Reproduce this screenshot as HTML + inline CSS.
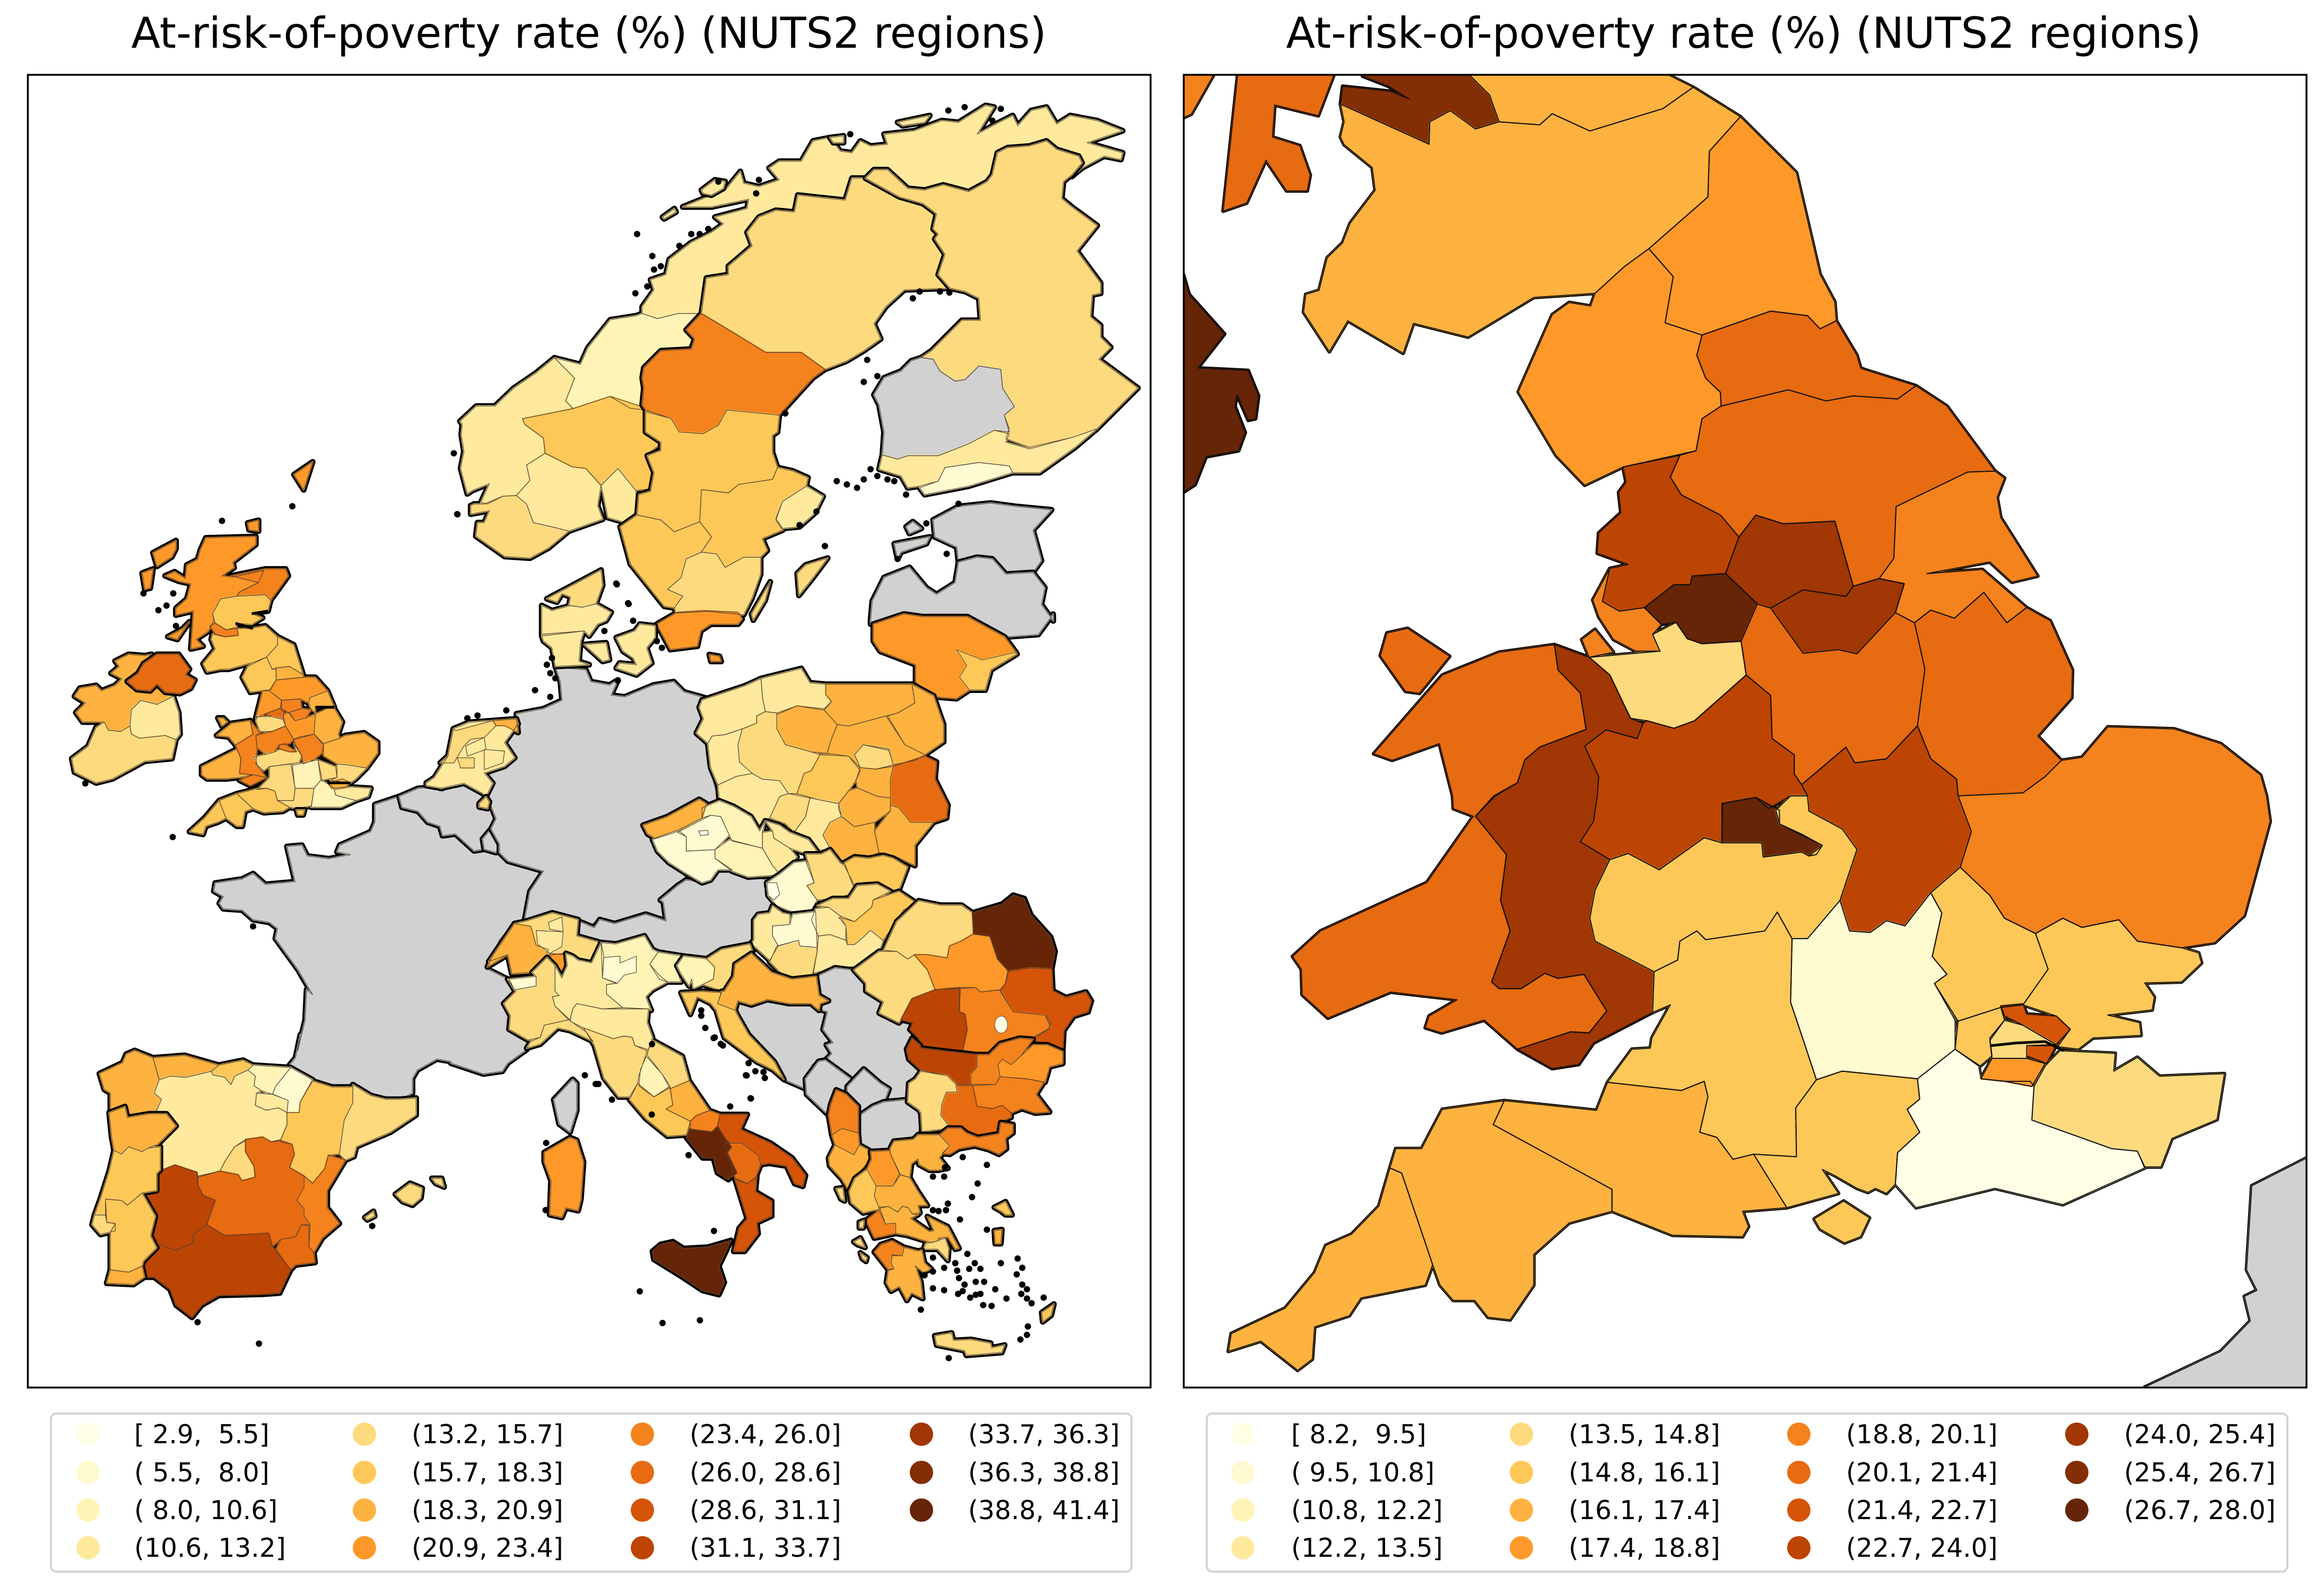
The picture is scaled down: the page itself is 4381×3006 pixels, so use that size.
<!DOCTYPE html>
<html lang="en">
<head>
<meta charset="utf-8">
<title>At-risk-of-poverty rate maps</title>
<style>
html,body{margin:0;padding:0;background:#fff;}
svg{display:block;}
text{font-family:"DejaVu Sans","Liberation Sans",sans-serif;fill:#000;white-space:pre;}
</style>
</head>
<body>
<svg id="fig" xmlns="http://www.w3.org/2000/svg" width="4381" height="3006" viewBox="0 0 4381 3006">
<defs><clipPath id="rc"><rect x="2231" y="140" width="2118" height="2475"/></clipPath></defs>
<rect width="4381" height="3006" fill="#fff"/>
<text x="1110" y="90" font-size="80" text-anchor="middle">At-risk-of-poverty rate (%) (NUTS2 regions)</text>
<text x="3287" y="90" font-size="80" text-anchor="middle">At-risk-of-poverty rate (%) (NUTS2 regions)</text>
<g id="leftMap"></g>
<g id="rightMap" clip-path="url(#rc)"></g>
<rect x="52.5" y="141" width="2116.5" height="2474" fill="none" stroke="#000" stroke-width="3.5"/>
<rect x="2231.5" y="141" width="2116.5" height="2474" fill="none" stroke="#000" stroke-width="3.5"/>
<rect x="96" y="2664" width="2037" height="298" rx="10" fill="#fff" stroke="#d4d4d4" stroke-width="4"/>
<rect x="2275" y="2664" width="2037" height="298" rx="10" fill="#fff" stroke="#d4d4d4" stroke-width="4"/>
<g id="leftLegend"></g>
<g id="rightLegend"></g>
</svg>
<script>
const colorRamp = ["#ffffe5","#fffad0","#fff4b6","#fee99d","#feda7e","#fec858","#feb23f","#fe9929","#f4821d","#e76b11","#d55407","#bd4503","#a03704","#832e05","#662506"];
const noDataColor = "#d1d1d1";
const leftBinEdges = [2.9,5.5,8.0,10.6,13.2,15.7,18.3,20.9,23.4,26.0,28.6,31.1,33.7,36.3,38.8,41.4];
const rightBinEdges = [8.2,9.5,10.8,12.2,13.5,14.8,16.1,17.4,18.8,20.1,21.4,22.7,24.0,25.4,26.7,28.0];
const leftLabels = ["[ 2.9,  5.5]","( 5.5,  8.0]","( 8.0, 10.6]","(10.6, 13.2]","(13.2, 15.7]","(15.7, 18.3]","(18.3, 20.9]","(20.9, 23.4]","(23.4, 26.0]","(26.0, 28.6]","(28.6, 31.1]","(31.1, 33.7]","(33.7, 36.3]","(36.3, 38.8]","(38.8, 41.4]"];
const rightLabels = ["[ 8.2,  9.5]","( 9.5, 10.8]","(10.8, 12.2]","(12.2, 13.5]","(13.5, 14.8]","(14.8, 16.1]","(16.1, 17.4]","(17.4, 18.8]","(18.8, 20.1]","(20.1, 21.4]","(21.4, 22.7]","(22.7, 24.0]","(24.0, 25.4]","(25.4, 26.7]","(26.7, 28.0]"];

const rightRates = {
 "ie-sliver":19.5,"kintyre":20.8,"glasgow":26.1,"edinburgh":16.8,"s-scotland":16.8,"northumberland":18.1,"cumbria":18.1,"durham":20.8,"n-yorkshire":20.8,"e-yorkshire":19.5,"lancashire":23.4,"w-yorkshire":24.7,"s-yorkshire":24.7,"manchester":27.4,"merseyside":19.5,"wirral":19.5,"cheshire":14.2,"derbyshire":20.8,"lincolnshire":20.8,"anglesey":20.8,"w-wales":20.8,"e-wales":24.7,"shropshire":23.4,"w-midlands":27.4,"leicestershire":23.4,"gloucs":15.5,"oxon":10.2,"beds":15.5,"essex":15.5,"east-anglia":19.5,"kent":14.2,"sussex":8.9,"hampshire":15.5,"wiltshire":15.5,"wight":15.5,"dorset":16.8,"devon":16.8,"cornwall":16.8,"london-outer-w":15.5,"london-ne":22.1,"london-se":22.1,"london-s":18.1,"london-c":14.2,"france":null,"ni":27.4
};
const rightShapes = [
["FR","france","B 1545,710 1470,765 1463,930 1477,970 1460,982 1468,1030 1428,1090 1325,1160 1560,1170"],
["NI","ni","T 10,530 22,540 30,580 78,658 42,725 110,730 124,780 120,825 110,828 95,778 92,800 106,852 97,888 53,900 38,955 22,970 10,985"],
["IE","ie-sliver","T 10,130 63,130 63,148 33,225 10,240"],
["UK","kintyre","T 97,130 226,130 226,148 205,228 146,207 143,270 180,287 194,345 190,376 162,376 134,316 108,400 76,416"],
["UK","glasgow","T 265,130 410,130 410,148 437,187 450,240 418,254 384,218 356,240 355,284 235,205 238,170 304,180 328,195 300,170 265,150"],
["UK","edinburgh","T 410,130 680,130 680,148 713,172 672,214 573,258 522,224 505,246 450,240 437,187 410,148"],
["UK","s-scotland","T 235,205 355,284 356,240 384,218 418,254 450,240 505,246 522,224 573,258 672,214 713,172 777,230 735,298 733,388 653,490 620,525 580,578 497,586 408,664 334,637 320,696 245,632 220,693 185,615 188,580 206,572 217,508 238,478 248,440 282,375 278,330 240,285 235,270 240,240"],
["UK","northumberland","T 777,230 853,340 885,540 905,595 907,632 885,648 868,622 818,613 725,660 675,636 686,545 653,490 733,388 735,298"],
["UK","cumbria","T 653,490 686,545 675,636 725,660 718,700 730,745 750,773 751,800 725,825 717,888 618,920 566,956 527,897 476,772 522,620 545,596 574,603 580,578 620,525"],
["UK","durham","T 725,660 818,613 868,622 885,648 907,632 935,700 940,725 945,728 1015,760 990,786 930,780 893,790 842,768 751,800 750,773 730,745 718,700"],
["UK","n-yorkshire","T 751,800 842,768 893,790 930,780 990,786 1015,760 1057,800 1122,928 1085,930 988,998 985,1100 965,1140 930,1155 905,1027 835,1032 798,1015 775,1058 750,1015 697,975 682,940 695,897 717,888 725,825"],
["UK","e-yorkshire","T 1085,930 1122,928 1135,942 1125,980 1130,1020 1180,1135 1145,1147 1115,1107 1030,1130 1105,1122 1165,1197 1138,1227 1107,1167 1067,1218 1035,1202 1013,1227 987,1207 999,1150 965,1140 985,1100 988,998"],
["UK","lancashire","T 618,920 695,897 682,940 697,975 750,1015 775,1058 757,1130 712,1135 709,1152 687,1152 647,1197 613,1204 590,1185 600,1120 625,1112 583,1090 585,1050 615,1010 612,970 622,950"],
["UK","w-yorkshire","T 798,1015 835,1032 905,1027 930,1155 920,1175 862,1162 818,1198 800,1190 757,1130 775,1058"],
["UK","s-yorkshire","T 818,1198 862,1162 920,1175 930,1155 965,1140 999,1150 987,1207 935,1288 910,1280 862,1287"],
["UK","merseyside","T 600,1120 590,1185 613,1204 647,1197 670,1230 658,1250 668,1283 635,1283 605,1260 585,1215 577,1182"],
["UK","wirral","T 562,1260 580,1240 605,1285 572,1295"],
["UK","cheshire","T 572,1295 668,1283 658,1250 690,1226 705,1258 725,1268 778,1263 785,1330 715,1420 687,1435 650,1420 628,1415 600,1330"],
["UK","manchester","T 647,1197 687,1152 709,1152 712,1135 757,1130 800,1190 778,1263 725,1268 705,1258 690,1226 670,1230"],
["UK","derbyshire","T 800,1190 818,1198 862,1287 910,1280 935,1288 987,1207 1013,1227 1027,1318 1017,1430 975,1495 932,1503 920,1472 860,1546 850,1525 850,1487 820,1455 818,1370 785,1330 778,1263"],
["UK","lincolnshire","T 1013,1227 1035,1202 1067,1218 1107,1167 1138,1227 1165,1197 1197,1223 1227,1320 1226,1375 1180,1450 1212,1498 1190,1530 1160,1562 1072,1568 1070,1535 1035,1495 1017,1430 1027,1318"],
["UKW","anglesey","T 298,1247 326,1238 383,1293 342,1366 323,1362 289,1292"],
["UK","w-wales","T 525,1270 530,1320 560,1365 568,1437 505,1472 485,1497 475,1542 445,1568 B 418,40 460,115 452,205 465,265 440,365 450,378 480,378 512,348 530,358 565,350 596,422 572,465 547,463 475,497 430,440 372,465 350,455 355,432 393,400 303,385 218,436 183,390 182,340 170,315 208,265 352,170 415,40 388,25 387,0 T 369,1465 305,1498 280,1485 373,1330 450,1285"],
["UK","e-wales","T 525,1270 572,1295 600,1330 628,1415 645,1425 637,1455 595,1438 566,1470 585,1530 583,1568 B 578,50 560,90 600,125 580,185 573,240 580,285 660,345 658,425 578,485 558,527 522,535 475,497 547,463 572,465 596,422 565,350 530,358 512,348 480,378 450,378 440,365 465,265 452,205 460,115 418,40 443,0 T 475,1542 485,1497 505,1472 568,1437 560,1365 530,1320"],
["UK","shropshire","T 645,1425 650,1420 687,1435 715,1420 785,1330 818,1370 820,1455 850,1487 850,1525 860,1546 868,1568 B 845,0 815,25 798,3 752,15 752,92 728,82 667,145 625,113 600,125 560,90 578,50 583,0 T 585,1530 566,1470 595,1438 637,1455"],
["UK","w-midlands","B 753,15 798,3 830,28 830,55 888,97 880,115 870,118 860,110 808,120 806,92 752,92"],
["UK","leicestershire","T 860,1546 920,1472 932,1503 975,1495 1017,1430 1035,1495 1070,1535 1072,1568 B 1090,70 1075,140 1035,190 1000,255 975,245 953,268 925,265 912,205 935,105 915,65 870,30 868,0"],
["UK","gloucs","B 600,125 625,113 667,145 728,82 752,92 806,92 808,120 860,110 870,118 888,97 860,75 830,55 825,28 845,0 868,0 870,30 915,65 935,105 912,205 868,280 847,280 827,228 810,265 730,282 718,265 695,285 692,322 660,345 580,285 573,240 580,185"],
["UK","oxon","B 847,280 868,280 912,205 925,265 953,268 975,245 1000,255 1035,190 1050,230 1037,315 1057,350 1040,368 1068,440 1068,497 1017,555 915,540 880,557 862,478 845,405"],
["UK","beds","B 1075,140 1115,195 1135,240 1177,270 1194,340 1160,410 1130,415 1072,442 1040,368 1057,350 1037,315 1050,230 1035,190"],
["UK","essex","B 1177,270 1214,240 1240,258 1290,243 1315,285 1375,298 1398,308 1402,328 1375,365 1325,367 1338,395 1335,420 1275,430 1318,445 1320,470 1255,475 1235,497 1207,492 1224,458 1205,432 1160,410 1194,340"],
["UK","east-anglia","T 1072,1568 1160,1562 1190,1530 1212,1498 1240,1492 1275,1432 1365,1436 1428,1465 1482,1527 1490,1568 B 1495,50 1460,235 1420,288 1375,298 1315,285 1290,243 1240,258 1214,240 1177,270 1135,240 1115,195 1075,140 1090,70"],
["UK","kent","B 1175,570 1190,530 1210,500 1285,505 1283,540 1315,513 1345,550 1433,545 1423,635 1362,672 1347,728 1325,728 1315,697 1280,692 1172,636"],
["UK","sussex","B 1068,497 1100,530 1103,555 1135,560 1170,560 1175,570 1172,636 1280,692 1315,697 1325,730 1214,802 1122,770 1015,808 987,762 990,700 1020,660 1003,615 1020,595 1017,555"],
["UK","hampshire","B 880,557 915,540 1017,555 1020,595 1003,615 1020,660 990,700 987,762 975,780 960,770 950,778 935,770 905,745 888,733 910,780 840,808 795,703 853,708 852,612"],
["UK","wiltshire","B 660,345 692,322 695,285 718,265 730,282 810,265 827,228 847,280 845,405 862,478 880,557 852,612 853,708 795,703 767,713 745,670 722,660 733,590 728,560 697,578 597,562 630,497 655,495 657,475 682,410 658,425"],
["UKI","wight","B 877,830 917,795 952,828 940,865 918,877 885,850"],
["UK","dorset","B 597,562 697,578 728,560 733,590 722,660 745,670 767,713 795,703 840,808 780,815 788,845 780,865 685,862 603,815 603,772 442,645 457,598 582,617"],
["UK","devon","B 457,598 442,645 603,772 603,815 545,838 497,900 497,960 465,1028 435,1023 417,990 388,990 370,960 360,920 318,740 302,730 310,692 345,692 373,615"],
["UK","cornwall","B 302,730 318,740 360,920 350,960 263,985 247,1020 200,1042 197,1105 177,1127 127,1070 83,1090 87,1055 160,1005 200,935 215,882 250,860 287,805"],
["UK","london-outer-w","B 1072,442 1130,415 1135,440 1115,475 1118,510 1102,530 1068,497"],
["UK","london-ne","B 1130,412 1160,408 1165,428 1205,432 1224,458 1205,488 1160,450 1135,432"],
["UK","london-se","B 1165,490 1205,490 1192,525 1165,510"],
["UK","london-s","B 1118,515 1165,515 1190,525 1172,570 1135,560 1103,555"],
["UK","london-c","B 1135,440 1160,450 1205,488 1165,490 1165,515 1118,515 1115,480"]
];

const leftRates = {
 "fr":null,"be":null,"lu":null,"de":null,"at":null,"ba":null,"rs":null,"me":null,"xk":null,"mk":null,"ee":null,"ee-s":null,"ee-h":null,"lv":null,"fi-west":null,"it-cor":null,
 "no-north":11.9,"no-lof1":11.9,"no-lof2":11.9,"no-senja":11.9,"no-soroya":11.9,"no-trond":9.3,"no-west":11.9,"no-sw":14.5,"no-se":11.9,"no-inland":17,"no-oslo":11.9,
 "se-upper":14.5,"se-mid":24.7,"se-nmid":17,"se-east":17,"se-stock":11.9,"se-west":17,"se-smal":14.5,"se-south":22.2,"se-got":14.5,"se-ol":14.5,"dk-born":22.2,
 "fi-north":14.5,"fi-south":11.9,"fi-hel":6.8,"lt":22.2,"lt-v":17,
 "pl-nw":11.9,"pl-pom":11.9,"pl-warm":19.6,"pl-podl":19.6,"pl-kuj":19.6,"pl-maz":19.6,"pl-war":14.5,"pl-wlkp":14.5,"pl-lubu":11.9,"pl-lodz":17,"pl-lub":27.3,"pl-swie":19.6,"pl-podk":19.6,"pl-mal":19.6,"pl-mal2":19.6,"pl-sl":11.9,"pl-op":14.5,"pl-dol":11.9,
 "cz-strip":19.6,"cz-n":9.3,"cz-cen":6.8,"cz-pr":4.2,"cz-sw":6.8,"cz-se":9.3,"cz-mor":11.9,"cz-ost":11.9,
 "sk-w":6.8,"sk-ba":4.2,"sk-m":14.5,"sk-e":17,
 "hu-w":11.9,"hu-c":6.8,"hu-sw":14.5,"hu-bud":11.9,"hu-n":14.5,"hu-e":17,"hu-s":11.9,
 "si-w":9.3,"si-e":14.5,"hr-n":19.6,"hr-a":17,
 "al-n":24.7,"al-c":22.2,"al-s":19.6,
 "ro-nw":14.5,"ro-w":14.5,"ro-c":22.2,"ro-ne":40.1,"ro-se":29.9,"ro-sm":24.7,"ro-so":32.4,
 "bg-nw":32.4,"bg-nc":24.7,"bg-ne":22.2,"bg-se":24.7,"bg-sc":27.3,"bg-sw":14.5,
 "gr-em":24.7,"gr-cm":19.6,"gr-wm":22.2,"gr-th":19.6,"gr-ep":17,"gr-wg":24.7,"gr-cg":19.6,"gr-at":14.5,"gr-peln":24.7,"gr-pel":19.6,"gr-cr":14.5,"gr-rh":17,"gr-les":17,"gr-chi":19.6,"gr-cor":14.5,"gr-kef":14.5,"gr-zak":14.5,"gr-lef":14.5,
 "nl":11.9,"nl-nw":14.5,"nl-ne":19.6,"nl-a":11.9,"nl-b":11.9,"nl-c":14.5,"nl-lim":14.5,
 "dk-n":14.5,"dk-m":11.9,"dk-s":11.9,"dk-f":11.9,"dk-z":11.9,
 "ch":14.5,"ch-w":19.6,"ch-t":22.2,"ch-c":11.9,"ch-n":11.9,
 "it-vda":6.8,"it-pie":14.5,"it-lig":14.5,"it-lom":11.9,"it-tn":6.8,"it-ven":9.3,"it-fr":9.3,"it-emi":11.9,"it-tos":14.5,"it-mar":14.5,"it-um":9.3,"it-laz":17,"it-abr":19.6,"it-mol":24.7,"it-pug":29.9,"it-bas":27.3,"it-cam":40.1,"it-cal":29.9,"it-sic":40.1,"it-sar":22.2,
 "scot-sh":22.2,"scot-or":22.2,"scot-lew":22.2,"scot-uist":22.2,"scot-jura":22.2,"scot-hi":22.2,"scot-ne":24.7,"scot-s":17,"scot-gl":24.7,
 "eng-n1":17,"eng-n2":17,"eng-cumb":17,"eng-dur":19.6,"eng-york":22.2,"eng-ey":19.6,"eng-lanc":22.2,"eng-wy":24.7,"eng-man":27.3,"eng-sy":24.7,"eng-derby":22.2,"eng-linc":19.6,"eng-ch":14.5,"eng-ea":19.6,"wal-n":19.6,"wal-ang":19.6,"wal-c":24.7,"eng-wm":24.7,"eng-b":24.7,"eng-sh":14.5,"eng-lei":24.7,"wal-s":19.6,"wal-se":24.7,"eng-glos":14.5,"eng-ox":9.3,"eng-hants":14.5,"eng-beds":14.5,"eng-essex":14.5,"eng-lon":19.6,"eng-kent":11.9,"eng-sus":9.3,"eng-dor":17,"eng-dev":17,"eng-cor":17,"eng-iow":17,
 "ni":27.3,"ie-nw":19.6,"ie-e":11.9,"ie-s":14.5,
 "es-gal":19.6,"es-ast":19.6,"es-cant":17,"es-cyl":11.9,"es-rio":11.9,"es-bas":9.3,"es-nav":6.8,"es-ara":17,"es-cat":14.5,"es-mad":14.5,"es-clm":27.3,"es-val":24.7,"es-mur":27.3,"es-ext":32.4,"es-and":32.4,"es-b1":14.5,"es-b2":14.5,"es-b3":14.5,
 "pt-n":19.6,"pt-c":17,"pt-l":14.5,"pt-a":17,"pt-alg":19.6
};
const leftShapes = [
["FR","fr","d 1240,1080 1150,1110 1150,1175 1135,1210 1020,1260 1010,1285 1060,1295 980,1310 900,1300 880,1260 825,1265 855,1395 745,1405 700,1365 660,1385 560,1400 555,1430 590,1450 575,1475 590,1495 660,1500 700,1535 760,1545 790,1568 B 370,280 400,340 420,390 412,380 410,440 400,500 e 950,0 930,95 905,125 940,155 1000,180 1080,215 1160,210 1240,250 1300,265 1360,265 1410,240 1410,180 1430,145 1510,100 1568,110 f 0,595 120,635 190,625 210,595 280,545 295,515 215,470 220,420 195,375 240,330 210,285 130,245 145,205 180,140 235,75 280,65 b 250,1460 265,1380 305,1320 200,1290 175,1265 165,1265 130,1255 100,1260 45,1210 d 1400,1225 1390,1190 1345,1175 1310,1135 1250,1120"],
["BE","be","d 1240,1080 1310,1050 1400,1045 b 0,1075 70,1060 125,1090 135,1105 145,1115 165,1165 150,1195 125,1225 130,1255 100,1260 45,1210 d 1400,1225 1390,1190 1345,1175 1310,1135 1250,1120"],
["LU","lu","b 125,1225 150,1195 175,1240 165,1265 130,1255"],
["DE","de","b 340,715 370,720 430,725 445,760 500,770 525,755 505,800 545,805 630,770 690,760 720,790 790,810 770,830 775,880 755,915 790,950 800,1030 820,1100 830,1120 800,1140 770,1140 600,1180 630,1230 720,1330 730,1350 650,1400 665,1465 620,1445 520,1470 470,1460 445,1480 410,1470 330,1445 250,1460 265,1380 305,1320 200,1290 175,1265 175,1240 150,1195 165,1165 145,1115 135,1100 155,1060 130,1030 190,1010 220,985 190,940 230,880 225,855 305,840 360,815 355,760"],
["AT","at","c 375,750 545,790 540,835 565,880 555,905 515,910 500,930 500,1000 465,1030 f 940,205 860,195 745,175 715,125 610,155 555,150 470,125 470,70 530,95 550,65 605,80 720,45 795,70 785,0 c 175,860 235,810 265,790 320,800 350,790"],
["NO","no-north","a 95,660 95,640 130,590 120,560 165,545 175,500 240,450 300,420 335,395 310,375 405,350 410,322 300,345 215,345 300,310 345,290 385,240 395,275 440,285 500,265 470,230 500,210 565,210 600,150 650,140 680,180 715,185 740,150 770,165 820,160 810,130 900,120 980,90 1030,95 1110,45 1135,50 1085,130 1140,100 1190,75 1205,105 1245,60 1290,50 1320,100 1360,75 1440,90 1515,120 1410,155 1515,185 1510,205 1460,195 1395,230 1365,255 1395,215 1385,195 1320,175 1290,150 1240,165 1175,170 1145,185 1130,250 1115,270 1060,300 985,280 930,295 880,290 820,235 780,235 755,260 715,260 695,325 555,310 545,360 490,355 440,375 405,420 420,460 350,520 350,545 285,555 270,660 200,660 140,675"],
["NO","no-trond","a 265,660 225,708 250,735 240,765 150,770 100,820 95,850 100,880 95,930 105,945 60,940 0,905 T 770,805 760,790 772,745 745,705 780,718 790,685 820,630 855,622 a 95,660 140,675 200,660"],
["NO","no-west","T 745,705 772,745 760,790 770,805 702,825 b 250,0 305,40 310,85 255,120 265,165 225,210 185,212 140,235 120,230 145,175 95,195 80,205 60,130 70,80 62,30 65,0 T 618,830 640,800 665,800 690,765 720,735"],
["NO","no-sw","b 225,210 255,235 275,290 340,305 380,315 320,365 265,395 190,390 105,330 110,290 130,290 145,255 90,265 90,240 100,235 130,235 185,212"],
["NO","no-se","b 310,85 390,125 430,130 475,180 470,210 465,240 480,280 380,315 340,305 275,290 255,235 225,210 265,165 255,120"],
["NO","no-inland","T 702,825 770,805 820,781 860,800 865,805 b 610,0 640,30 655,55 615,85 635,140 620,190 578,195 525,130 475,180 430,130 390,125 310,85 305,40 250,0"],
["NO","no-oslo","b 525,130 578,195 580,225 570,300 530,285 495,275 480,200 475,180"],
["NO2","no-lof1","a 270,295 310,265 340,270 335,290 300,310 275,305"],
["NO3","no-lof2","a 155,375 190,350 195,360 160,380"],
["NO4","no-senja","a 650,140 690,135 690,155 660,155"],
["NO5","no-soroya","a 850,95 945,75 930,95 865,105"],
["SE","se-upper","a 755,260 715,260 695,325 555,310 545,360 490,355 440,375 405,420 420,460 350,520 350,545 285,555 270,660 370,720 460,775 565,775 635,825 700,800 750,770 800,735 780,690 815,640 870,590 1005,585 970,545 990,485 960,440 970,425 955,410 965,365 925,335 855,315"],
["SE","se-mid","a 270,660 370,720 460,775 565,775 635,825 600,850 545,910 500,960 345,945 320,990 275,1015 205,1010 180,970 105,945 95,930 100,880 95,850 100,820 150,770 240,765 250,735 225,708"],
["SE","se-nmid","a 105,950 180,970 205,1010 275,1015 320,990 345,945 500,960 495,1010 480,1020 480,1070 495,1115 480,1150 380,1165 350,1190 270,1180 265,1275 190,1305 150,1270 80,1255 85,1195 120,1185 130,1130 110,1080 150,1065 150,1040 105,1010"],
["SE","se-east","a 495,1115 540,1125 585,1145 580,1170 510,1215 490,1270 510,1300 450,1325 465,1360 445,1380 395,1380 340,1410 315,1370 270,1365 300,1320 265,1275 270,1180 350,1190 380,1165 480,1150"],
["SE","se-stock","a 580,1170 630,1200 605,1250 560,1290 510,1295 490,1265 510,1215"],
["SE","se-west","a 80,1255 150,1270 190,1305 265,1275 300,1320 270,1365 225,1385 210,1440 170,1475 215,1495 190,1530 160,1525 100,1450 60,1400 30,1290"],
["SE","se-smal","a 270,1365 315,1370 340,1410 395,1380 445,1380 445,1430 420,1500 395,1550 290,1540 195,1545 190,1530 215,1495 170,1475 210,1440 225,1385"],
["SE","se-south","b 640,590 700,555 780,550 880,555 892,575 880,590 800,590 770,610 760,655 680,665"],
["SE2","se-got","b 1055,440 1080,415 1145,395 1100,455 1060,505"],
["SE3","se-ol","b 975,465 960,520 925,578 920,560"],
["DK4","dk-born","b 795,680 825,685 830,700 800,700"],
["FI","fi-north","a 755,260 780,235 820,235 880,290 930,295 985,280 1060,300 1115,270 1130,250 1145,185 1175,170 1240,165 1290,150 1320,175 1385,195 1395,215 1365,250 1340,270 1335,320 1365,345 1440,400 1380,475 1450,570 1450,600 1425,605 1420,670 1450,695 1450,730 1480,760 1445,795 1560,880 1440,1000 1370,1025 1240,1055 1170,1030 1180,1000 1165,960 1195,935 1160,880 1155,825 1090,815 1050,855 1020,860 975,830 955,795 920,790 950,770 1040,680 1095,680 1090,615 1050,595 1005,585 970,545 990,485 960,440 970,425 955,410 965,365 925,335 855,315"],
["FI","fi-west","a 920,790 955,795 975,830 1020,860 1050,855 1090,815 1155,825 1160,880 1195,935 1165,960 1180,1010 1135,1005 1060,1045 970,1080 880,1080 850,1090 805,1078 810,1010 795,930 780,900 810,850 860,830 890,800"],
["FI","fi-south","a 805,1078 850,1090 880,1080 970,1080 1060,1045 1135,1005 1180,1015 1170,1040 1240,1060 1370,1025 1440,1000 1375,1055 1270,1130 1190,1130 1180,1110 1090,1100 990,1115 970,1155 915,1170 880,1175 860,1140 795,1120"],
["FI","fi-hel","a 990,1115 1090,1100 1180,1110 1190,1130 1060,1170 930,1195 915,1175 970,1155"],
["EE","ee","a 955,1270 1030,1230 1125,1220 1200,1230 1305,1240 1250,1300 1275,1390 1250,1425 1170,1430 1130,1385 1085,1380 1030,1395 1025,1350 960,1320"],
["EE2","ee-s","a 840,1340 945,1320 935,1340 860,1365 850,1385"],
["EE3","ee-h","a 875,1290 895,1275 920,1295 885,1310"],
["LV","lv","a 770,1568 775,1510 810,1440 885,1410 935,1470 965,1490 1020,1455 1030,1395 1085,1380 1130,1385 1170,1430 1250,1425 1285,1470 1275,1520 1310,1568 T 1415,1210 1395,1250 1350,1255 1300,1215 1240,1215 b 1460,565 1370,560 1272,590"],
["LT","lt","T 1240,1215 b 1370,560 1280,590 1280,640 1300,670 1405,710 1405,762 1462,805 c 1205,160 1250,130 1305,130 1325,60 1415,5 T 1365,1285 1350,1255 1300,1215"],
["LT","lt-v","T 1285,1280 1320,1300 1365,1285 c 1415,5 1325,60 1305,130 1250,130 1215,85 1240,45 1215,5"],
["PL","pl-nw","c 320,165 470,115 525,90 530,155 540,205 510,220 510,245 460,265 400,285 355,290 340,315 300,280 325,230 310,190"],
["PL","pl-pom","c 525,90 665,55 695,105 750,110 750,145 770,170 745,195 650,185 580,210 540,205 530,155"],
["PL","pl-warm","c 750,110 1050,110 1060,175 1000,210 960,220 830,255 790,250 745,200 770,170 750,145"],
["PL","pl-podl","c 1050,110 1125,150 1160,250 1160,310 1095,355 1025,320 965,220 1000,210 1060,175"],
["PL","pl-kuj","c 580,215 650,185 745,200 790,250 770,300 755,350 700,345 610,320 580,265"],
["PL","pl-maz","c 790,250 830,255 960,220 1025,320 1095,355 1060,375 985,390 970,340 880,320 850,355 870,400 830,360 755,350 770,300"],
["PL","pl-war","c 880,320 970,335 985,390 925,405 870,400 850,355"],
["PL","pl-wlkp","c 510,220 540,205 580,210 580,265 610,320 700,345 730,355 700,410 675,420 650,490 620,490 590,445 530,440 495,420 450,380 445,320 460,265 510,245"],
["PL","pl-lubu","c 340,315 355,290 400,285 460,265 445,320 450,380 495,420 440,430 375,460 350,400 345,360"],
["PL","pl-lodz","c 730,355 830,360 870,410 855,445 830,480 795,525 720,510 650,490 675,420 700,410"],
["PL","pl-lub","c 985,395 1095,360 1135,380 1130,440 1175,530 1170,575 1125,590 1045,590 1005,540 975,530 975,440"],
["PL","pl-swie","c 870,400 925,405 985,395 975,440 975,505 930,500 860,470 855,445"],
["PL","pl-podk","c 975,530 1005,540 1045,590 1125,590 1060,670 1060,740 985,705 935,695 920,620 975,550"],
["PL","pl-mal","c 795,525 830,480 860,470 930,500 975,505 975,550 920,590 850,605 805,570 795,545"],
["PL","pl-mal2","c 740,635 765,590 805,570 850,605 920,590 920,620 935,695 900,710 860,705 820,725 790,720 765,680"],
["PL","pl-sl","c 695,505 795,525 805,570 765,590 740,635 765,680 720,690 690,640 640,625 680,570"],
["PL","pl-op","c 620,490 695,505 680,570 640,625 610,595 555,575 590,500"],
["PL","pl-dol","c 375,460 440,430 495,420 530,440 590,445 620,490 590,500 555,575 540,580 525,620 490,570 430,535 380,515"],
["CZ","cz-n","c 320,540 380,515 430,535 490,570 520,620 540,585 530,625 530,680 425,655 415,635 385,570 350,565 320,575"],
["CZ","cz-strip","c 115,600 200,570 310,510 335,525 320,575 240,615 155,645 130,630"],
["CZ","cz-cen","c 235,625 350,565 385,570 415,635 365,685 265,690 265,640"],
["CZ","cz-pr","c 308,620 340,618 342,633 315,636"],
["CZ","cz-sw","c 148,650 240,620 265,640 265,690 365,685 365,715 425,755 375,755 350,790 320,800 260,765 205,730 165,690"],
["CZ","cz-se","c 365,685 415,650 530,680 565,740 590,770 560,775 480,780 425,760 365,715"],
["CZ","cz-mor","c 530,625 565,620 570,645 625,680 650,710 610,760 590,770 565,740 530,680"],
["CZ","cz-ost","c 540,585 590,600 625,625 690,650 720,690 670,695 625,680 570,645 565,620"],
["SK","sk-w","c 545,800 590,770 640,730 680,725 710,800 685,810 720,860 700,895 630,900 580,880 550,845"],
["SK","sk-ba","c 545,800 580,800 590,840 570,860 550,845"],
["SK","sk-m","c 680,700 735,700 765,685 800,730 815,740 850,810 835,840 775,855 720,860 685,810 710,800"],
["SK","sk-e","c 815,730 850,710 900,715 950,705 985,715 1035,745 1005,825 975,825 930,805 860,810 845,810"],
["HU","hu-n","c 720,880 775,855 830,855 860,810 930,805 975,830 915,860 910,885 850,935 800,915 760,885"],
["HU","hu-e","c 795,920 850,935 910,885 915,860 1005,830 1065,870 1020,895 985,950 950,1000 905,965 880,990 850,1015 825,1015 820,950"],
["HU","hu-bud","c 715,890 760,885 800,915 820,950 820,1000 765,980 725,985 700,930"],
["HU","hu-s","c 725,985 765,980 820,1000 825,1015 850,1015 880,990 905,965 950,1000 925,1075 880,1090 790,1095 705,1115 720,1040"],
["HU","hu-sw","c 555,1075 580,1020 655,1000 660,1020 720,1025 720,1040 705,1125 660,1135 605,1125"],
["HU","hu-w","c 565,880 600,905 625,910 625,945 565,950 565,985 585,1020 555,1070 490,1010 500,1000 500,930 515,910 555,905"],
["HU","hu-c","c 565,950 625,945 635,910 715,900 720,1025 660,1020 655,1000 585,1020 565,985"],
["BA","ba","f 1060,365 1110,380 1170,360 1250,375 1330,375 1360,400 1385,405 1370,460 1410,520 1390,570 1335,600 1310,690 1230,655 1195,590 1100,490 1060,420"],
["RS","rs","g 225,455 300,420 380,430 440,490 440,525 520,575 500,625 590,680 630,660 655,670 640,705 650,745 620,780 635,835 690,885 665,925 630,945 625,1015 540,1025 545,965 505,940 430,875 385,940 255,840 285,810 260,770 290,760 245,700 265,620 235,610 225,545 215,470"],
["ME","me","g 255,840 385,935 350,975 305,975 270,1090 170,995 165,925 225,845"],
["XK","xk","g 355,960 430,880 505,945 545,970 525,1025 470,1050 420,1080 400,1040 355,990"],
["MK","mk","g 420,1085 470,1050 520,1030 620,1020 680,1075 690,1140 665,1195 550,1215 540,1240 455,1250 415,1215 405,1120"],
["AL","al-n","g 270,1090 280,1040 305,975 350,995 405,1050 405,1170 330,1150 285,1180"],
["AL","al-c","g 285,1180 330,1150 405,1170 410,1225 385,1270 300,1225"],
["AL","al-s","g 300,1225 385,1270 410,1225 455,1250 460,1290 390,1375 360,1430 330,1380 275,1320 270,1285"],
["RO","ro-nw","g 520,340 580,210 680,115 780,135 875,135 925,170 930,265 870,300 820,320 810,375 720,360 660,360 630,380 580,345"],
["RO","ro-w","g 385,430 500,345 580,345 630,380 660,360 720,430 755,520 650,560 620,620 590,670 500,625 520,575 440,525 440,490"],
["RO","ro-c","g 660,360 720,360 810,375 820,320 870,300 930,265 1005,275 1040,380 1085,430 1075,490 1050,520 960,530 940,510 755,520 720,430"],
["RO","ro-ne","g 925,170 1060,130 1110,90 1160,105 1190,180 1280,280 1300,345 1285,425 1190,420 1090,435 1040,380 1005,275 930,265"],
["RO","ro-se","g 1090,435 1190,420 1285,425 1290,525 1350,555 1440,530 1465,570 1450,620 1385,640 1340,705 1335,795 1265,770 1195,745 1270,700 1280,670 1255,635 1110,620 1050,525 1075,490"],
["RO","ro-sm","g 870,510 940,510 960,530 1050,520 1110,620 1255,635 1280,690 1195,740 1140,740 1050,760 990,810 880,795 900,700 890,630 865,620"],
["RO","ro-so","g 755,520 865,510 865,620 890,630 900,700 880,795 810,800 690,785 680,740 640,700 655,670 600,655 650,560"],
["BG","bg-nw","g 625,790 650,740 685,770 690,785 810,800 945,815 945,870 915,905 918,950 850,950 810,910 690,885 635,835"],
["BG","bg-nc","g 945,815 1000,815 1050,765 1140,740 1200,745 1145,820 1100,860 1060,835 1040,860 1050,915 1030,950 918,950 915,905 945,870"],
["BG","bg-ne","g 1040,860 1060,835 1100,860 1145,820 1200,770 1265,770 1335,800 1335,855 1275,870 1255,940 1175,925 1050,915"],
["BG","bg-se","g 925,955 1030,950 1050,915 1175,925 1250,940 1215,995 1275,1075 1210,1080 1150,1060 1100,1080 1060,1045 1015,1060 945,1050 935,1000"],
["BG","bg-sc","g 850,955 925,955 935,1000 945,1050 1015,1060 1060,1045 1100,1080 1100,1100 1050,1120 1045,1170 950,1185 880,1150 815,1135 780,1090 785,1040 805,985 855,985"],
["BG","bg-sw","g 690,890 810,910 850,950 855,985 805,985 785,1040 780,1090 815,1135 815,1150 695,1165 690,1080 680,1065 630,1030 635,945 665,925"],
["GR","gr-em","h 915,110 960,75 1030,75 1060,100 1120,125 1235,105 1245,45 1310,55 1310,100 1270,130 1275,185 1235,215 1180,190 1105,170 1020,185 970,215 930,210 970,170"],
["GR","gr-cm","h 650,185 670,145 775,135 800,110 915,110 970,170 930,215 915,235 960,290 910,300 860,300 805,270 800,240 765,265 755,340 705,325 650,210"],
["GR","gr-wm","h 545,200 650,195 650,210 700,320 665,385 575,385 525,295 550,240"],
["GR","gr-th","h 575,385 665,385 705,325 755,340 800,415 850,490 800,490 810,530 770,535 745,500 715,495 690,525 640,495 590,500 565,440"],
["GR","gr-ep","h 525,295 575,385 565,440 590,500 590,510 505,530 440,475 430,415 460,345"],
["GR","gr-wg","h 590,515 625,590 680,585 680,640 565,665 520,570"],
["GR","gr-cg","h 595,505 640,495 690,525 715,495 745,500 770,535 800,540 760,560 860,630 885,625 850,550 960,605 1020,720 1000,725 960,660 910,665 905,680 870,690 740,650 680,640 680,585 625,590"],
["GR","gr-at","h 840,695 905,680 945,665 965,720 960,785 905,725 830,725"],
["GR2","gr-peln","h 565,740 600,700 660,680 725,715 715,760 660,755 655,800 670,830 640,835"],
["GR2","gr-pel","h 660,760 715,760 725,715 800,735 820,730 835,800 870,830 830,850 785,815 815,900 825,990 765,960 740,1000 700,925 655,950 630,905 640,840 670,830 655,800"],
["GR3","gr-cr","h 890,1190 980,1175 990,1215 1085,1210 1190,1230 1195,1255 1265,1240 1250,1280 1060,1295 1050,1270 900,1240"],
["GR4","gr-rh","h 1465,1065 1530,1020 1515,1080 1470,1115"],
["GR5","gr-les","h 1210,500 1270,470 1305,540 1270,540 1245,520"],
["GR6","gr-chi","h 1210,625 1250,620 1245,695 1215,695"],
["GR7","gr-cor","h 360,400 395,395 405,465 385,455"],
["GR8","gr-kef","h 455,685 490,665 515,715 475,700"],
["GR9","gr-zak","h 490,745 525,770 520,790 500,775"],
["GR10","gr-lef","h 485,580 510,570 505,610 485,610"],
["NL","nl","d 1340,1030 1370,1010 1420,930 1440,830 b 85,880 155,875 225,870 230,885 190,940 220,985 190,1010 130,1030 155,1060 135,1100 125,1090 70,1060 0,1075 d 1400,1050 1340,1040"],
["NL","nl-nw","b 45,905 155,875 165,890 130,925 90,930 70,950 40,1000 0,1000 d 1420,930 1440,830"],
["NL","nl-ne","b 155,875 225,870 230,910 190,890 165,890"],
["NL","nl-a","b 75,950 130,925 135,960 80,980"],
["NL","nl-b","b 130,960 190,965 185,1000 130,1020"],
["NL","nl-c","b 50,985 100,985 100,1015 60,1015"],
["NL2","nl-lim","b 115,1120 135,1100 145,1115 140,1135 115,1130"],
["DK","dk-n","b 315,515 400,470 475,430 480,475 460,530 420,540 380,535 385,510 360,500 345,525"],
["DK","dk-m","b 300,535 330,550 385,535 420,540 460,530 505,555 490,580 465,590 440,625 425,610 300,620"],
["DK","dk-s","b 300,625 425,610 415,640 410,700 440,710 340,715 330,660 305,640"],
["DK2","dk-f","b 425,650 490,645 500,695 480,700"],
["DK3","dk-z","b 520,630 575,610 590,590 635,595 635,630 610,660 625,705 580,740 520,720 530,705 580,710 570,690 540,670"],
["CH","ch","f 140,220 235,80 280,70 375,40 470,65 465,125 555,150 520,225 470,215 450,200 425,195 365,190 355,205 300,260 225,265 210,195"],
["CH","ch-w","f 135,240 150,205 235,80 295,90 315,160 360,175 350,205 300,260 225,265 210,195"],
["CH","ch-c","f 315,105 415,110 410,165 365,190 320,155"],
["CH","ch-n","f 360,75 410,55 415,110 365,100"],
["CH","ch-t","f 365,195 425,190 430,235 410,280 385,235"],
["IT","it-pie","f 210,285 235,325 315,310 315,275 300,260 355,205 385,235 385,330 400,345 375,350 385,385 435,435 345,455 330,500 285,510 215,470 220,420 195,375 240,330"],
["IT","it-vda","f 215,285 315,275 315,310 235,325"],
["IT","it-lig","f 345,455 435,435 500,480 525,515 440,475 395,465 330,525 280,540 295,515 330,500"],
["IT","it-lom","f 385,235 410,280 430,235 425,190 450,200 470,215 520,225 555,150 565,200 560,280 610,300 575,305 575,340 635,390 560,395 465,375 450,395 440,435 385,385 375,350 400,345 385,330"],
["IT","it-ven","f 555,150 610,155 715,125 745,175 765,185 735,230 770,270 800,295 745,325 720,350 740,400 730,395 635,390 575,340 575,305 610,300 615,300 560,280"],
["IT","it-tn","f 565,205 625,200 625,225 685,200 685,260 640,270 615,300 560,280"],
["IT","it-fr","f 765,185 860,200 830,235 850,295 800,295 770,285 735,230"],
["IT","it-emi","f 465,375 560,395 640,395 730,395 725,445 745,500 730,545 680,530 670,500 640,495 600,505 490,465 440,440 450,395"],
["IT","it-tos","f 490,465 600,505 640,495 670,500 680,530 725,550 695,640 690,670 660,720 620,720 565,650 530,530"],
["IT","it-mar","f 730,545 745,510 855,570 880,660 810,690 780,635 725,565"],
["IT","it-um","f 722,570 780,635 810,680 750,720 695,680 700,620"],
["IT","it-laz","f 690,670 750,720 810,685 820,750 795,765 885,810 870,860 800,865 720,800 660,730"],
["IT","it-abr","f 810,690 880,660 955,770 905,790 885,810 795,765 820,750"],
["IT","it-mol","f 905,790 955,770 995,785 985,830 965,850 885,840 885,810"],
["IT","it-pug","f 995,785 1095,785 1070,840 1180,890 1260,945 1310,1010 1300,1050 1270,1040 1240,975 1175,965 1145,970 1135,935 1075,890 1030,890 1010,870 985,830"],
["IT","it-bas","f 1010,890 1075,890 1135,935 1145,970 1125,1020 1095,1040 1050,1020 1020,925"],
["IT","it-cal","f 1050,1025 1095,1040 1130,1015 1125,1070 1185,1105 1185,1160 1130,1185 1135,1225 1085,1290 1045,1290 1065,1205 1095,1170 1055,1040"],
["IT","it-cam","f 870,870 885,840 965,850 985,830 1010,870 1035,905 1020,925 1055,1000 1025,1025 985,1000 970,945 930,945"],
["IT2","it-sic","f 745,1290 775,1265 820,1255 860,1280 950,1275 1035,1250 990,1345 1010,1405 990,1450 930,1435 855,1385 750,1320"],
["IT3","it-sar","f 345,925 440,870 465,880 490,960 480,1100 470,1140 425,1130 410,1165 365,1155 370,1030 345,960"],
["IT4","it-cor","f 380,730 450,655 465,670 465,770 440,850 400,820"],
["SI","si-w","f 835,235 860,200 945,210 975,240 970,285 930,305 895,320 890,285 880,310 850,265"],
["SI","si-e","f 945,210 1000,175 1105,155 1115,185 1050,230 1045,275 1010,330 930,305 970,285 975,240"],
["HR","hr-n","f 1110,190 1185,260 1260,285 1350,275 1360,345 1395,365 1365,375 1360,400 1330,375 1250,375 1170,360 1110,380 1060,365 1050,400 985,375 1000,330 1010,330 1045,275 1050,230"],
["HR","hr-a","f 850,335 930,330 1000,335 985,375 1050,400 1060,420 1100,490 1195,590 1230,655 1190,620 1130,590 1010,500 980,400 960,375 910,350 885,415"],
["SC1","scot-sh","T 395,935 420,910 408,965"],
["SC2","scot-or","d 680,70 720,60 720,100 685,95"],
["SC3","scot-lew","d 330,180 415,135 415,165 400,195 345,230"],
["SC4","scot-uist","d 290,255 330,240 320,310 300,315"],
["SC5","scot-jura","d 385,490 440,460 465,435 420,500"],
["UK","scot-hi","d 525,125 710,120 710,150 625,215 630,235 585,265 625,270 740,245 720,290 650,325 640,340 580,350 550,405 555,430 535,470 490,500 515,525 470,535 480,395 415,410 415,385 455,350 470,295 425,285 375,265 410,250 450,275 455,225 495,205 505,170"],
["UK","scot-ne","d 620,265 745,240 820,240 830,265 765,355 745,335 640,340 650,325 720,290"],
["UK","scot-s","d 580,350 640,340 745,335 765,355 755,395 695,405 735,420 695,445 635,440 640,455 600,465 560,440 550,405"],
["UK","eng-n1","d 550,480 595,490 645,485 640,460 680,460 745,450 790,490 790,520 750,565 700,585 610,610 580,610 530,620 515,590 560,535 545,500"],
["UK","scot-gl","d 540,450 560,440 600,465 640,460 645,485 595,490 560,480"],
["UK","eng-n2","d 790,490 850,520 885,630 835,600 785,605 770,610 750,565 790,520"],
["UK","eng-cumb","d 700,590 750,565 770,610 785,610 785,650 765,685 690,695 660,640 680,600"],
["UK","eng-dur","d 785,605 835,600 885,630 885,640 785,650"],
["UK","eng-york","d 785,650 885,640 930,640 975,690 910,715 905,735 875,720 805,725 760,690"],
["UK","eng-ey","d 910,715 975,690 1000,750 930,750 930,770 915,760 905,735"],
["UK","eng-lanc","d 735,690 760,690 805,725 800,755 745,775 710,790 725,730"],
["UK","eng-wy","d 805,725 875,720 880,755 830,770 805,755"],
["UK","eng-man","d 745,775 800,755 815,770 810,795 770,785"],
["UK","eng-sy","d 830,770 880,755 915,760 895,790 855,800"],
["UK","eng-derby","d 810,775 835,770 855,800 895,790 930,775 925,850 870,860 850,870 820,820"],
["UK","eng-linc","d 930,775 975,755 1000,755 1030,805 1015,850 1020,865 960,885 925,850"],
["UK","eng-ch","d 715,785 770,785 810,795 820,820 770,840 725,840 710,800"],
["UK","eng-ea","d 960,885 1020,865 1040,855 1110,845 1160,880 1160,920 1120,975 1060,965 1010,960 960,930"],
["UK","wal-n","d 565,855 620,810 690,800 700,850 635,890 610,860"],
["UKA","wal-ang","d 570,790 590,790 605,805 585,820"],
["UK","wal-s","d 510,970 640,905 655,940 650,995 700,1000 650,1010 600,1015 530,1015 510,1000"],
["UK","wal-c","d 690,800 725,845 710,855 715,900 710,960 750,1010 700,1000 650,995 655,940 635,890 700,850"],
["UK","wal-se","d 650,1020 700,1000 750,1010 690,1040"],
["UK","eng-wm","d 710,855 770,840 820,820 850,870 835,885 795,890 780,915 745,925 715,900"],
["UK","eng-sh","d 700,935 745,925 780,915 800,905 835,915 860,915 850,885 880,930 870,955 760,970 740,985 715,965 710,945"],
["UK","eng-b","d 795,890 815,885 860,915 835,915 800,905"],
["UK","eng-lei","d 850,870 925,850 960,890 955,920 925,945 885,960 880,930 855,885"],
["UK","eng-glos","d 760,970 840,960 855,1050 850,1095 790,1095 780,1060 750,1050 715,1055 760,1010"],
["UK","eng-ox","d 845,965 940,945 950,1020 925,1050 855,1050"],
["UK","eng-hants","d 855,1050 925,1050 915,1115 860,1125 835,1120 790,1095 850,1095"],
["UK","eng-beds","d 940,945 1005,970 1010,1010 955,1020"],
["UK","eng-essex","d 1010,960 1060,965 1120,975 1080,1015 1060,1030 985,1020 1010,1010"],
["UK","eng-kent","d 1000,1055 1060,1045 1135,1050 1125,1080 1080,1095 1005,1075"],
["UK","eng-sus","d 950,1020 990,1040 1000,1055 1005,1075 1080,1095 1025,1120 915,1120 925,1050"],
["UK","eng-lon","d 975,1030 1030,1015 1060,1030 1040,1045 990,1050"],
["UK","eng-dor","d 640,1070 720,1050 750,1050 780,1060 790,1095 835,1120 810,1135 740,1140 700,1125"],
["UK","eng-dev","d 575,1095 640,1070 700,1125 670,1135 660,1190 640,1190 600,1160 580,1110"],
["UK","eng-cor","d 575,1095 580,1110 600,1160 570,1175 525,1190 515,1220 465,1210 520,1160"],
["UK2","eng-iow","d 860,1130 890,1130 885,1148 865,1148"],
["IE","ie-nw","d 60,680 120,670 140,690 190,670 215,645 175,625 205,600 190,580 240,555 300,560 325,555 295,590 275,625 235,655 270,685 320,690 345,665 375,695 405,710 345,740 285,725 250,760 245,820 210,840 165,835 150,805 70,805 45,770 80,735 40,710"],
["IE","ie-e","d 250,760 285,725 345,740 405,710 425,770 430,850 415,870 375,855 280,865 250,850 245,820"],
["IE","ie-s","d 150,805 165,835 210,840 245,820 250,850 280,865 375,855 415,870 400,940 300,950 180,1015 120,1030 40,990 30,940 90,895 120,825"],
["NI","ni","d 235,655 275,625 295,590 345,555 425,555 465,610 450,630 485,650 470,680 430,700 375,695 345,665 320,690 270,685"],
["ES","es-gal","e 125,160 220,115 235,80 270,65 345,95 370,185 350,240 380,265 360,310 330,325 240,340 230,295 170,320 170,240 145,225"],
["ES","es-ast","e 345,95 475,85 615,125 585,150 480,175 415,170 370,185"],
["ES","es-cant","e 615,125 715,105 755,125 735,145 680,170 665,205 640,175 590,165 585,150"],
["ES","es-cyl","e 370,185 415,170 480,175 585,150 590,165 640,175 665,205 680,170 735,145 765,170 760,210 790,230 770,240 765,290 810,310 860,300 895,320 895,370 870,430 830,440 795,420 725,430 680,460 640,520 620,560 530,580 525,565 435,535 385,555 375,460 365,450 400,415 440,375 400,330 395,320 340,320 360,310 380,265 350,240"],
["ES","es-rio","e 770,240 840,245 900,270 895,320 860,300 810,310 765,290"],
["ES","es-bas","e 755,125 910,135 850,210 835,245 790,230 760,210 765,170 735,145"],
["ES","es-nav","e 910,135 1000,185 950,275 945,320 895,320 900,270 835,245 850,210"],
["ES","es-ara","e 1000,190 1080,215 1165,215 1165,280 1130,350 1110,490 1065,495 1050,550 1000,610 965,580 905,545 925,490 915,450 870,440 870,430 895,370 895,320 945,320 950,275"],
["ES","es-cat","e 1165,205 1240,250 1300,265 1360,265 1425,260 1425,330 1320,400 1180,460 1170,500 1135,515 1110,490 1130,350 1165,280"],
["ES","es-mad","e 725,435 725,480 760,540 765,585 710,600 695,575 620,560 640,520 680,460"],
["ES","es-clm","e 530,585 620,560 695,575 710,600 765,585 760,540 725,480 725,430 795,420 830,440 870,435 915,450 925,490 905,545 965,580 965,625 935,680 965,715 965,745 990,780 955,780 930,830 870,840 835,870 820,815 640,825 565,780 600,680 550,660 530,620"],
["ES","es-val","e 965,580 1000,610 1050,550 1065,495 1135,515 1060,640 1060,710 1110,775 1040,835 1005,895 985,870 990,780 965,745 965,715 935,680 965,625"],
["ES","es-mur","e 850,880 870,840 930,830 955,780 985,785 985,870 1005,895 1010,935 930,945 910,965 880,925"],
["ES","es-ext","e 305,650 360,640 365,565 385,555 435,535 525,565 530,620 550,660 600,680 565,780 510,820 510,855 440,885 365,860 335,825 355,745"],
["ES","es-and","e 365,860 440,885 510,855 510,820 565,780 640,825 820,815 835,870 880,925 910,965 865,1060 800,1065 615,1070 545,1110 505,1160 440,1110 415,1045 350,995 310,995 305,930 360,875"],
["ES1","es-b1","e 1340,655 1400,610 1450,630 1445,670 1410,700 1370,685"],
["ES2","es-b2","e 1490,590 1530,590 1540,625 1505,610"],
["ES3","es-b3","e 1215,750 1250,725 1255,745 1225,760"],
["PT","pt-n","e 165,320 230,295 240,340 330,325 400,325 440,375 365,450 325,465 300,480 245,460 215,490 185,475 175,420"],
["PT","pt-c","e 185,475 215,490 245,460 300,480 325,465 375,460 375,555 360,570 360,640 300,650 240,700 215,680 150,675 150,740 105,740 130,670 165,560"],
["PT","pt-l","e 105,740 150,740 155,770 190,775 190,805 130,820 95,780"],
["PT","pt-a","e 150,675 215,680 240,700 300,650 355,745 335,825 360,875 305,930 300,950 245,975 170,965 170,810 190,775 155,770"],
["PT","pt-alg","e 170,965 245,975 300,950 310,995 265,1025 155,1020"]
];
const leftIslets = "a 80,425 125,490 110,580 75,600 150,520 130,530 205,460 240,425 265,425 290,410 432,305 440,265 320,270 710,130 1000,60 1048,50 1155,55 1130,90 518,955 760,797 750,862 790,845 895,615 915,595 975,595 1003,598 670,1155 700,1165 730,1175 750,1150 770,1120 790,1140 820,1150 840,1155 875,1195 935,1280 1030,1222 995,1370 850,1385 635,1347 560,1285 610,1245 20,1460 55,1518 b 50,265 40,85 280,785 325,805 315,710 325,735 340,750 330,690 525,757 520,470 555,528 570,580 485,610 640,640 655,660 80,868 110,860 195,845 d 585,62 295,330 405,330 350,392 380,375 415,450 80,1032 403,1230 700,1560 845,8 1455,38 f 495,640 535,672 545,672 595,730 742,785 743,525 352,890 350,1138 878,935 1032,755 1107,725 1090,640 1125,625 1155,628 1160,650 1100,595 925,400 925,420 940,465 975,500 1005,530 972,1215 698,1438 782,1555 920,1545 e 528,1180 780,1268 1245,785 c 360,1340 385,1360 475,1470 490,1550 h 1040,230 1170,272 1120,372 1090,445 960,480 950,515 880,515 910,520 1025,565 1170,620 880,770 940,825 1000,800 1010,840 1075,830 1135,830 1105,800 1065,750 1245,800 1335,775 1360,825 1330,860 880,845 835,865 1020,880 1050,915 1155,900 1110,900 1215,940 1360,915 1385,940 1355,965 880,935 940,945 1015,965 1040,950 1080,985 1110,970 1135,965 1275,990 1385,990 1410,1015 1475,985 1150,1025 1195,1030 815,1050 1390,1140 1385,1185 1350,1210 965,1310 880,335 940,335 945,285";
const leftEstuaries = ["d 975,1030 1060,1030","d 930,750 1000,750","d 695,405 755,395","d 635,440 700,460"];

const frames = {
 L:{T:[0,0,1.403,0.9566],B:[0,1500,1.403,0.9605],
    a:[1150,170,0.6378,0.6378],b:[830,800,0.6378,0.6378],c:[1150,1230,0.5421,0.5421],d:[120,950,0.5102,0.5102],
    e:[130,1950,0.4592,0.4592],f:[850,1700,0.5102,0.5102],g:[1450,1650,0.4145,0.4145],h:[1450,2100,0.3508,0.3508]},
 R:{T:[2200,0,1.391,0.9566],B:[2200,1500,1.391,0.9605]}
};
const SVGNS = "http://www.w3.org/2000/svg";
function project(str, panel){
  let f = frames[panel].T;
  const out = [];
  str.split(/\s+/).forEach(function(tok){
    if(/^[A-Za-z]$/.test(tok)){ f = frames[panel][tok]; return; }
    const p = tok.split(",");
    out.push([f[0] + (+p[0]) * f[2], f[1] + (+p[1]) * f[3]]);
  });
  return out;
}
function toPoints(list){
  return list.map(function(p){ return p[0].toFixed(1) + "," + p[1].toFixed(1); }).join(" ");
}
function binIndex(value, edges){
  for(let i = 0; i < edges.length - 1; i++){ if(value <= edges[i + 1]) return i; }
  return edges.length - 2;
}
function fillFor(value, edges){
  return value === null || value === undefined ? noDataColor : colorRamp[binIndex(value, edges)];
}
function drawMap(root, shapes, rates, edges, panel, outerWidth, innerWidth, innerColor){
  const countries = [];
  shapes.forEach(function(s){ if(countries.indexOf(s[0]) < 0) countries.push(s[0]); });
  countries.forEach(function(c){
    const members = shapes.filter(function(s){ return s[0] === c; });
    members.forEach(function(s){
      const u = document.createElementNS(SVGNS, "polygon");
      u.setAttribute("points", toPoints(project(s[2], panel)));
      u.setAttribute("fill", "#000");
      u.setAttribute("stroke", "#000");
      u.setAttribute("stroke-width", outerWidth);
      u.setAttribute("stroke-linejoin", "round");
      
      
      root.appendChild(u);
    });
    members.forEach(function(s){
      const color = fillFor(rates[s[1]], edges);
      const r = document.createElementNS(SVGNS, "polygon");
      r.setAttribute("points", toPoints(project(s[2], panel)));
      r.setAttribute("fill", color);
      r.setAttribute("stroke", color);
      r.setAttribute("stroke-width", 3);
      r.setAttribute("stroke-linejoin", "round");
      
      
      root.appendChild(r);
    });
    members.forEach(function(s){
      const b = document.createElementNS(SVGNS, "polygon");
      b.setAttribute("points", toPoints(project(s[2], panel)));
      b.setAttribute("fill", "none");
      b.setAttribute("stroke", innerColor);
      b.setAttribute("stroke-width", innerWidth);
      b.setAttribute("stroke-linejoin", "round");
      
      
      root.appendChild(b);
    });
  });
}
function drawLegend(root, labels, markerX, textX){
  const rowY = [2703, 2775, 2846, 2917];
  labels.forEach(function(label, i){
    const col = Math.floor(i / 4), row = i % 4;
    const m = document.createElementNS(SVGNS, "circle");
    m.setAttribute("cx", markerX[col]);
    m.setAttribute("cy", rowY[row]);
    m.setAttribute("r", 22);
    m.setAttribute("fill", colorRamp[i]);
    
    
    root.appendChild(m);
    const t = document.createElementNS(SVGNS, "text");
    t.setAttribute("x", textX[col]);
    t.setAttribute("y", rowY[row] + 17);
    t.setAttribute("font-size", "48.7");
    
    
    t.textContent = label;
    root.appendChild(t);
  });
}
const leftRoot = document.getElementById("leftMap");
drawMap(leftRoot, leftShapes, leftRates, leftBinEdges, "L", 11, 1.2, "#554433");
leftEstuaries.forEach(function(str){
  const e = document.createElementNS(SVGNS, "polyline");
  e.setAttribute("points", toPoints(project(str, "L")));
  e.setAttribute("fill", "none");
  e.setAttribute("stroke", "#000");
  e.setAttribute("stroke-width", 5);
  
  
  leftRoot.appendChild(e);
});
project(leftIslets, "L").forEach(function(p){
  const d = document.createElementNS(SVGNS, "circle");
  d.setAttribute("cx", p[0].toFixed(1));
  d.setAttribute("cy", p[1].toFixed(1));
  d.setAttribute("r", 6);
  d.setAttribute("fill", "#000");
  
  
  leftRoot.appendChild(d);
});
const hole = project("g 1055,678", "L")[0];
const bucharest = document.createElementNS(SVGNS, "ellipse");
bucharest.setAttribute("cx", hole[0]);
bucharest.setAttribute("cy", hole[1]);
bucharest.setAttribute("rx", 12);
bucharest.setAttribute("ry", 16);
bucharest.setAttribute("fill", "#ffffe5");
bucharest.setAttribute("stroke", "#555");


leftRoot.appendChild(bucharest);
drawMap(document.getElementById("rightMap"), rightShapes, rightRates, rightBinEdges, "R", 7, 2, "#111");
const thames = document.createElementNS(SVGNS, "polyline");
thames.setAttribute("points", toPoints(project("B 1117,490 1150,485 1190,482 1215,500", "R")));
thames.setAttribute("fill", "none");
thames.setAttribute("stroke", "#000");
thames.setAttribute("stroke-width", 5);


document.getElementById("rightMap").appendChild(thames);
drawLegend(document.getElementById("leftLegend"), leftLabels, [166, 687, 1211, 1737], [253, 776, 1300, 1825]);
drawLegend(document.getElementById("rightLegend"), rightLabels, [2343, 2868, 3391, 3915], [2434, 2957, 3480, 4004]);
</script>
</body>
</html>
